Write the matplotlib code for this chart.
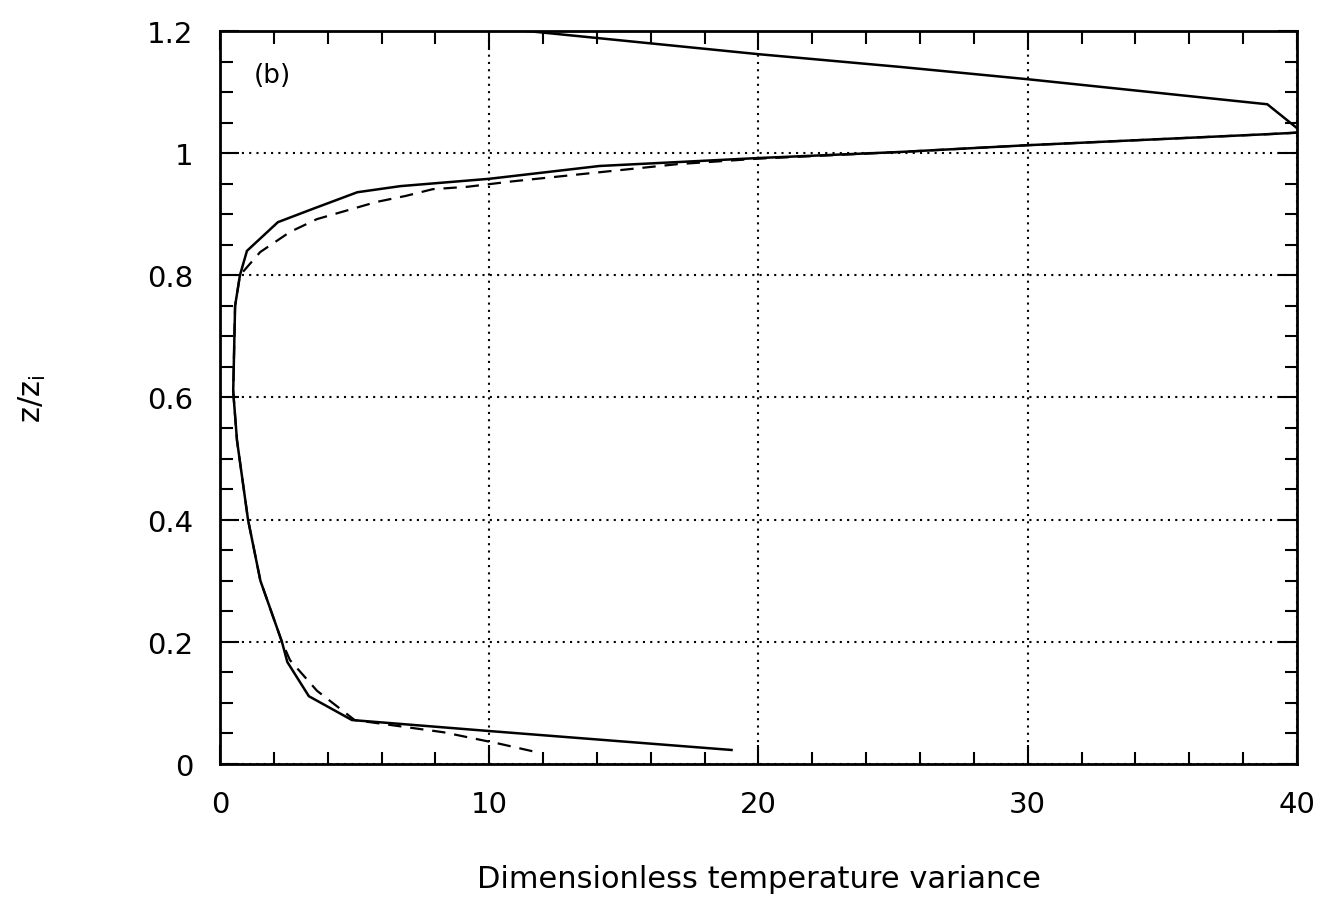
import matplotlib
matplotlib.use('Agg')
import matplotlib.pyplot as plt
from matplotlib.ticker import MultipleLocator

# solid profile (x = variance, z = z/zi)
solid_x = [19.0, 10.0, 4.9, 3.3, 2.5, 2.3, 1.5, 1.04, 0.63, 0.49, 0.56, 0.74, 1.0,
           2.15, 3.46, 5.1, 6.7, 10.0, 14.1, 20.0, 25.3, 30.0, 38.9, 40.2,
           38.9, 30.0, 25.3, 20.0, 8.0]
solid_z = [0.023, 0.054, 0.072, 0.111, 0.167, 0.2, 0.30, 0.40, 0.53, 0.61, 0.75, 0.80, 0.84,
           0.887, 0.909, 0.936, 0.946, 0.958, 0.979, 0.992, 1.002, 1.013, 1.031, 1.034,
           1.08, 1.121, 1.141, 1.162, 1.215]

# dashed profile
dash_x = [11.6, 10.4, 8.3, 5.0, 3.6, 2.6, 2.3, 1.5, 1.04, 0.63, 0.49, 0.56, 0.74, 1.49,
          2.6, 3.6, 4.7, 5.8, 6.9, 7.9, 9.2, 10.9, 13.5, 17.0, 20.0, 25.3, 30.0, 38.9, 40.2]
dash_z = [0.021, 0.033, 0.052, 0.072, 0.12, 0.17, 0.2, 0.30, 0.40, 0.53, 0.61, 0.75, 0.80, 0.838,
          0.871, 0.892, 0.906, 0.92, 0.93, 0.941, 0.945, 0.954, 0.966, 0.982, 0.991, 1.002,
          1.013, 1.031, 1.034]

fig = plt.figure(figsize=(13.23, 9.03), dpi=100)
ax = fig.add_axes([0.1663, 0.1528, 0.8140, 0.8118])

ax.plot(solid_x, solid_z, color='black', lw=1.8, solid_joinstyle='miter')
ax.plot(dash_x, dash_z, color='black', lw=1.6, dashes=(6, 4))

ax.set_xlim(0, 40)
ax.set_ylim(0, 1.2)
ax.xaxis.set_minor_locator(MultipleLocator(2))
ax.yaxis.set_minor_locator(MultipleLocator(0.05))
ax.set_xticks([0, 10, 20, 30, 40])
ax.set_xticklabels(['0', '10', '20', '30', '40'])
ax.set_yticks([0, 0.2, 0.4, 0.6, 0.8, 1.0, 1.2])
ax.set_yticklabels(['0', '0.2', '0.4', '0.6', '0.8', '1', '1.2'])

ax.tick_params(which='both', direction='in', top=True, right=True, width=1.5,
               labelsize=21, colors='black')
ax.tick_params(which='major', length=14, pad=19)
ax.tick_params(which='minor', length=9)
for s in ax.spines.values():
    s.set_linewidth(2)

ax.grid(True, which='major', color='black', linestyle=(0, (1, 2.5)), linewidth=1.5)

ax.text(0.031, 0.94, '(b)', transform=ax.transAxes, fontsize=19, ha='left', va='center')

ax.set_xlabel('Dimensionless temperature variance', fontsize=22)
ax.xaxis.set_label_coords(0.5, -0.136)
ax.set_ylabel(r'$\mathregular{z/z_i}$', fontsize=22)
ax.yaxis.set_label_coords(-0.160, 0.5)

fig.savefig('out.png', dpi=100)
